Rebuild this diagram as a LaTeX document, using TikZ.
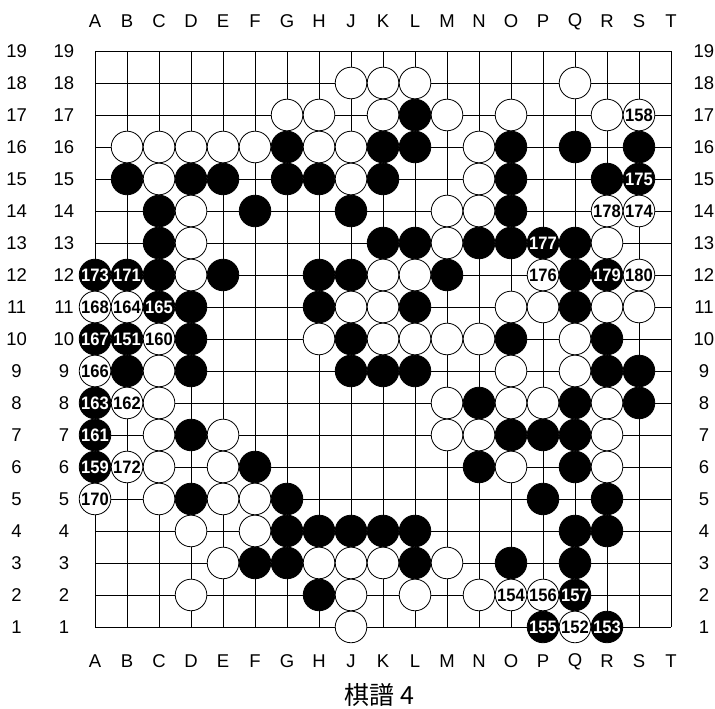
\documentclass[tikz,border=0pt]{standalone}
\usepackage{fontspec}
\setmainfont{Liberation Sans}
\newfontfamily\cjkfont{Noto Sans CJK JP}
\newfontfamily\numfont{Liberation Sans}[FakeStretch=0.92]
\usetikzlibrary{positioning}

\begin{document}
\begin{tikzpicture}[
    x=32pt, y=32pt,
    font=\fontsize{18.5}{22}\selectfont,
    gridline/.style={line width=0.9pt},
    stone/.style={circle, draw, line width=0.8pt, minimum size=31.6pt, inner sep=0pt,
        font=\numfont\bfseries\fontsize{18}{20}\selectfont},
    wst/.style={stone, fill=white, text=black},
    bst/.style={stone, fill=black, text=white}
]
    \useasboundingbox (-1.97,-1.5625) rectangle (20.375,20.594);

    % board lines
    \foreach \i in {1,...,19} {
        \draw[gridline] (\i,1) -- (\i,19);
        \draw[gridline] (1,\i) -- (19,\i);
    }

    % coordinates round the board
    \foreach \l [count=\i] in {A,B,C,D,E,F,G,H,J,K,L,M,N,O,P,Q,R,S,T} {
        \node (top\l) at (\i,19.92) {\l};
        \node (bot\l) at (\i,-0.08) {\l};
    }
    \foreach \r in {1,...,19} {
        \node (lo\r) at (-1.45,\r) {\r};
        \node (li\r) at (0.03,\r) {\r};
        \node (ri\r) at (20.03,\r) {\r};
    }

    % black stones
    \foreach \c/\r in {11/17,
        7/16, 10/16, 11/16, 14/16, 16/16, 18/16,
        2/15, 4/15, 5/15, 7/15, 8/15, 10/15, 14/15, 17/15,
        3/14, 6/14, 9/14, 14/14,
        3/13, 10/13, 11/13, 13/13, 14/13, 16/13,
        3/12, 5/12, 8/12, 9/12, 12/12, 16/12,
        4/11, 8/11, 11/11, 16/11,
        4/10, 9/10, 14/10, 17/10,
        2/9, 4/9, 9/9, 10/9, 11/9, 17/9, 18/9,
        13/8, 16/8, 18/8,
        4/7, 14/7, 15/7, 16/7,
        6/6, 13/6, 16/6,
        4/5, 7/5, 15/5, 17/5,
        7/4, 8/4, 9/4, 10/4, 11/4, 16/4, 17/4,
        6/3, 7/3, 11/3, 14/3, 16/3,
        8/2}
        \node[bst] (b\c-\r) at (\c,\r) {};

    % white stones
    \foreach \c/\r in {9/18, 10/18, 11/18, 16/18,
        7/17, 8/17, 10/17, 12/17, 14/17, 17/17,
        2/16, 3/16, 4/16, 5/16, 6/16, 8/16, 9/16, 13/16,
        3/15, 9/15, 13/15,
        4/14, 12/14, 13/14,
        4/13, 12/13, 17/13,
        4/12, 10/12, 11/12,
        9/11, 10/11, 14/11, 15/11, 17/11, 18/11,
        8/10, 10/10, 11/10, 12/10, 13/10, 16/10,
        3/9, 14/9, 16/9,
        3/8, 12/8, 14/8, 15/8, 17/8,
        3/7, 5/7, 12/7, 13/7, 17/7,
        3/6, 5/6, 14/6, 17/6,
        3/5, 5/5, 6/5,
        4/4, 6/4,
        5/3, 8/3, 9/3, 10/3, 12/3,
        4/2, 9/2, 11/2, 13/2,
        9/1}
        \node[wst] (w\c-\r) at (\c,\r) {};

    % moves 151-180
    \foreach \c/\r/\n in {2/10/151, 17/1/153, 15/1/155, 16/2/157, 1/6/159,
        1/7/161, 1/8/163, 3/11/165, 1/10/167, 2/12/171, 1/12/173,
        18/15/175, 15/13/177, 17/12/179}
        \node[bst] (m\n) at (\c,\r) {\n};
    \foreach \c/\r/\n in {16/1/152, 14/2/154, 15/2/156, 18/17/158, 3/10/160,
        2/8/162, 2/11/164, 1/9/166, 1/11/168, 1/5/170, 2/6/172,
        18/14/174, 15/12/176, 17/14/178, 18/12/180}
        \node[wst] (m\n) at (\c,\r) {\n};

    \node[font=\cjkfont\fontsize{25}{29}\selectfont] (caption) at (9.9,-1.125) {棋譜\hspace{0.25em}4};
\end{tikzpicture}
\end{document}
